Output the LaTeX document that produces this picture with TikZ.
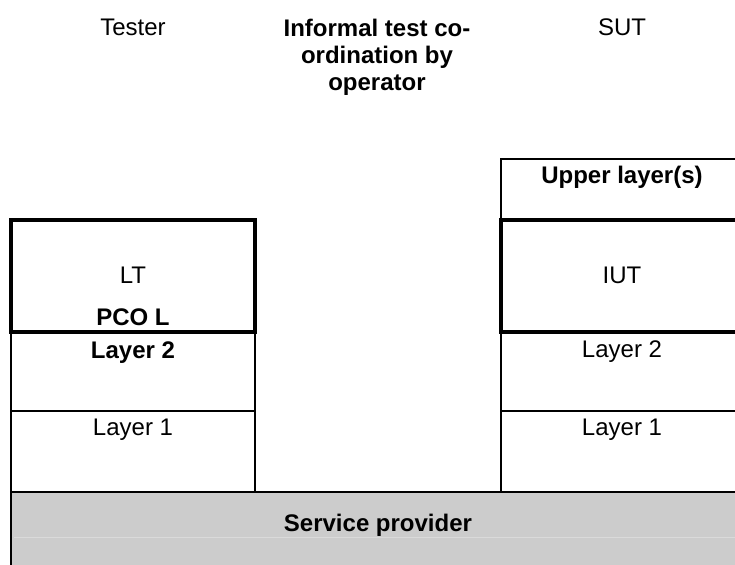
\documentclass[tikz,border=0pt]{standalone}
\usepackage{fontspec}
\setmainfont{Liberation Sans}
\tikzset{
  thin/.style={draw=black, line width=1pt},
  thick box/.style={draw=black, line width=2pt},
  lbl/.style={anchor=base, inner sep=0pt, font=\fontsize{12}{13.5}\selectfont},
  blbl/.style={anchor=base, inner sep=0pt, font=\bfseries\fontsize{12}{13.5}\selectfont},
}
\begin{document}
\begin{tikzpicture}[x=0.5pt, y=-0.5pt]
\useasboundingbox (0,0) rectangle (735,565);
\clip (0,0) rectangle (735,565);
\fill[white] (0,0) rectangle (735,565);
% service provider
\fill[fill={rgb,255:red,204;green,204;blue,204}] (11,492) rectangle (760,600);
\draw[line width=0.4pt, draw={rgb,255:red,218;green,218;blue,218}] (14,537) -- (735,537);
\draw[thin] (11,600) -- (11,492) -- (760,492);
% tester column
\draw[thin] (11,332) rectangle (255,411);
\draw[thin] (11,411) rectangle (255,492);
\draw[thick box] (11,220) rectangle (255,332);
% SUT column
\draw[thin] (501,159) rectangle (743,220);
\draw[thin] (501,332) rectangle (743,411);
\draw[thin] (501,411) rectangle (743,492);
\draw[thick box] (501,220) rectangle (743,332);
% headings
\node[lbl] (tester) at (133,36) {Tester};
\node[lbl] (sut) at (622,36) {SUT};
\node[blbl, align=center] (coord) at (377,90.7) {Informal test co-\\ordination by\\operator};
% tester texts
\node[lbl] (lt) at (133,283.6) {LT};
\node[blbl] (pco) at (133,325.6) {PCO L};
\node[blbl] (tl2) at (133,358.6) {Layer 2};
\node[lbl] (tl1) at (133,435.6) {Layer 1};
% SUT texts
\node[blbl] (upper) at (622,183.6) {Upper layer(s)};
\node[lbl] (iut) at (622,284) {IUT};
\node[lbl] (sl2) at (622,358) {Layer 2};
\node[lbl] (sl1) at (622,435.6) {Layer 1};
% service provider text
\node[blbl] (sp) at (378,532) {Service provider};
\end{tikzpicture}
\end{document}
